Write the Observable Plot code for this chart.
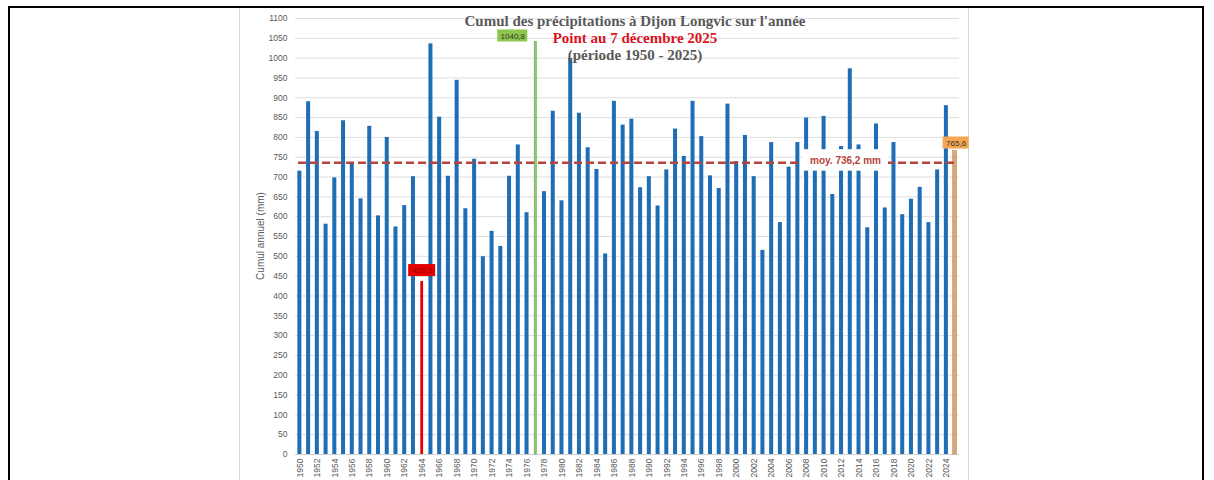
<!DOCTYPE html>
<html><head><meta charset="utf-8">
<script src="https://cdn.jsdelivr.net/npm/d3@7"></script>
<script src="https://cdn.jsdelivr.net/npm/@observablehq/plot@0.6"></script>
<style>
body{margin:0;background:#fff;}
#wrap{position:relative;width:1214px;height:480px;overflow:hidden;background:#fff;}
#frame{position:absolute;left:8px;top:6px;width:1196px;height:520px;border:2px solid #000;box-sizing:border-box;}
#panel{position:absolute;left:239px;top:8px;width:730px;height:520px;border-left:1px solid #d9d9d9;border-right:1px solid #d9d9d9;box-sizing:border-box;}
#chart{position:absolute;left:0;top:0;}
.t{position:absolute;left:635px;transform:translateX(-50%);white-space:nowrap;font-family:"Liberation Serif","DejaVu Serif",serif;font-weight:bold;font-size:15px;line-height:1;}
#t1{top:14px;color:#595959;}
#t2{top:31px;color:#d9141c;}
#t3{top:48px;color:#595959;}
#ylab{position:absolute;left:260px;top:236px;transform:translate(-50%,-50%) rotate(-90deg);white-space:nowrap;font-family:"Liberation Sans",Arial,sans-serif;font-size:10px;color:#595959;}
</style></head><body>
<div id="wrap">
  <div id="frame"></div>
  <div id="panel"></div>
  <div id="chart"></div>
  <div class="t" id="t1">Cumul des précipitations à Dijon Longvic sur l'année</div>
  <div class="t" id="t2">Point au 7 décembre 2025</div>
  <div class="t" id="t3">(période 1950 - 2025)</div>
  <div id="ylab">Cumul annuel (mm)</div>
</div>
<script>
const years = [1950,1951,1952,1953,1954,1955,1956,1957,1958,1959,
  1960,1961,1962,1963,1964,1965,1966,1967,1968,1969,
  1970,1971,1972,1973,1974,1975,1976,1977,1978,1979,
  1980,1981,1982,1983,1984,1985,1986,1987,1988,1989,
  1990,1991,1992,1993,1994,1995,1996,1997,1998,1999,
  2000,2001,2002,2003,2004,2005,2006,2007,2008,2009,
  2010,2011,2012,2013,2014,2015,2016,2017,2018,2019,
  2020,2021,2022,2023,2024,2025];
const cumul = [715,890,815,581,698,842,735,645,828,602,
  800,574,628,701,436.3,1036,851,702,944,620,
  745,499,563,525,702,781,610,1040.8,663,866,
  640,999,861,774,719,506,891,831,846,673,
  701,627,718,821,752,891,802,703,671,884,
  739,805,701,515,787,585,725,787,849,745,
  853,656,777,973,781,572,834,622,787,605,
  644,674,585,718,880,765.6];
const moyenne = 736.2;
const anneeMin = 1964, anneeMax = 1977, anneeCourante = 2025;
const yTicks = [0,50,100,150,200,250,300,350,400,450,500,550,600,650,700,750,800,850,900,950,1000,1050,1100];
const xTickYears = [1950,1952,1954,1956,1958,1960,1962,1964,1966,1968,1970,1972,1974,1976,1978,1980,1982,1984,1986,1988,1990,1992,1994,1996,1998,2000,2002,2004,2006,2008,2010,2012,2014,2016,2018,2020,2022,2024];

const data = years.map((year, i) => ({year, value: cumul[i]}));
const fmt = v => v.toFixed(1).replace(".", ",");
const special = new Set([anneeMin, anneeMax, anneeCourante]);
const bw = 0.46 * 664 / 76;

const plot = Plot.plot({
  width: 1214, height: 480,
  marginLeft: 295, marginRight: 255, marginTop: 18, marginBottom: 26,
  style: {background: "transparent", fontFamily: "'Liberation Sans', Arial, sans-serif", fontSize: "8.5px", color: "#595959", overflow: "visible"},
  x: {type: "band", domain: years, paddingInner: 0.54, paddingOuter: 0.27},
  y: {domain: [0, 1100]},
  marks: [
    Plot.gridY({ticks: yTicks, stroke: "#dedede", strokeOpacity: 1}),
    Plot.ruleY([0], {stroke: "#d0d0d0"}),
    Plot.barY(data, {filter: d => !special.has(d.year), x: "year", y: "value", fill: "#1f6db5"}),
    Plot.barY(data, {filter: d => d.year === anneeMin, x: "year", y: "value", fill: "#e60000", insetLeft: 0.6, insetRight: 0.6}),
    Plot.barY(data, {filter: d => d.year === anneeMax, x: "year", y: "value", fill: "#93c974", stroke: "#6aa84f", strokeWidth: 0.7, insetLeft: 1, insetRight: 1}),
    Plot.barY(data, {filter: d => d.year === anneeCourante, x: "year", y: "value", fill: "#d9a57c", stroke: "#c98f62", strokeWidth: 0.6}),
    Plot.ruleY([moyenne], {stroke: "#b5443c", strokeWidth: 2.6, strokeDasharray: "8,4", insetLeft: 3, insetRight: 4}),
    Plot.barY([moyenne], {y1: d => d, y2: d => d, fill: "white", insetLeft: 507, insetRight: 71, insetTop: -13, insetBottom: -8.5}),
    Plot.text([moyenne], {y: d => d, frameAnchor: "left", textAnchor: "middle", dx: 550, dy: -1.5, text: d => `moy. ${fmt(d)} mm`, fill: "#b5443c", fontWeight: "bold", fontSize: 10}),
    // value labels
    Plot.barY(data, {filter: d => d.year === anneeMin, x: "year", y1: "value", y2: "value", fill: "#e60000", insetTop: -17, insetBottom: 5, insetLeft: -(27 - bw) / 2, insetRight: -(27 - bw) / 2}),
    Plot.text(data, {filter: d => d.year === anneeMin, x: "year", y: "value", text: d => fmt(d.value), dy: -11, fill: "#9a0000", fontSize: 8}),
    Plot.barY(data, {filter: d => d.year === anneeMax, x: "year", y1: "value", y2: "value", fill: "#8dc64c", dx: -23, insetTop: -12, insetBottom: 0, insetLeft: -(30 - bw) / 2, insetRight: -(30 - bw) / 2}),
    Plot.text(data, {filter: d => d.year === anneeMax, x: "year", y: "value", text: d => fmt(d.value), dx: -23, dy: -6, fill: "#333", fontSize: 8}),
    Plot.barY(data, {filter: d => d.year === anneeCourante, x: "year", y1: "value", y2: "value", fill: "#f4a650", dx: 1, insetTop: -14, insetBottom: 2, insetLeft: -(26 - bw) / 2, insetRight: -(26 - bw) / 2}),
    Plot.text(data, {filter: d => d.year === anneeCourante, x: "year", y: "value", text: d => fmt(d.value), dx: 1, dy: -8, fill: "#333", fontSize: 8}),
    Plot.axisY({ticks: yTicks, tickFormat: d => String(d), tickSize: 0, tickPadding: 8, label: null, fill: "#595959"}),
    Plot.axisX({ticks: xTickYears, tickFormat: d => String(d), tickSize: 0, tickPadding: 4, tickRotate: -90, label: null, fill: "#595959"})
  ]
});
document.getElementById("chart").appendChild(plot);
</script>
</body></html>
